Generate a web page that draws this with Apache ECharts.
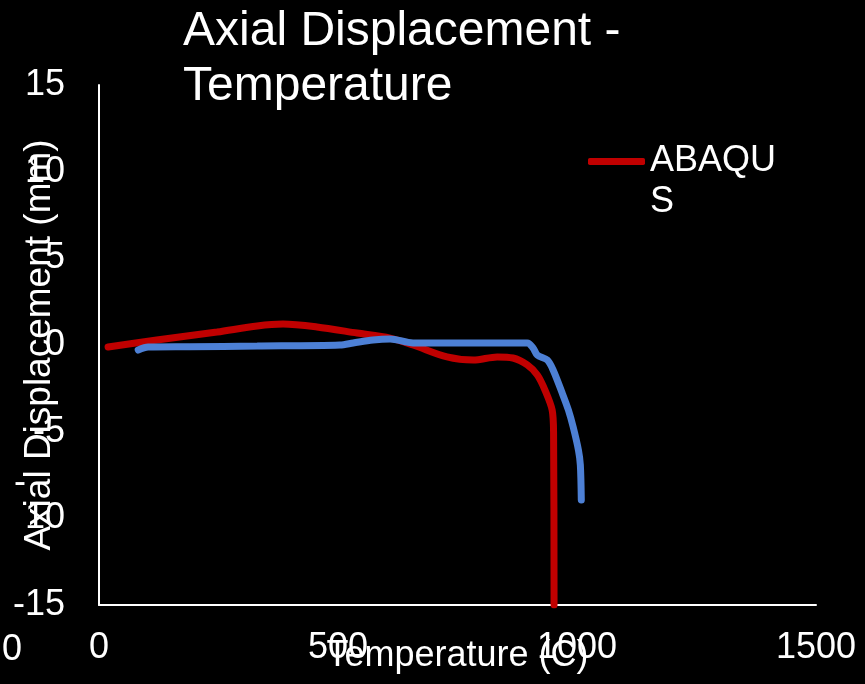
<!DOCTYPE html>
<html>
<head>
<meta charset="utf-8">
<script src="https://cdn.jsdelivr.net/npm/echarts@6/dist/echarts.min.js"></script>
<style>
html,body{margin:0;padding:0;background:#000;}
#chart{width:865px;height:684px;}
</style>
</head>
<body>
<div id="chart"></div>
<script>
var titleText = 'Axial Displacement -\nTemperature';
var xAxisName = 'Temperature (C)';
var yAxisName = 'Axial Displacement (mm)';
var seriesNames = ['ABAQUS', 'Experiment'];

// Temperature (C)
var abaqusT = [19, 121, 247, 331, 385, 456, 540, 609, 657, 728, 783, 833, 866, 896, 917, 933, 948, 951, 952];
// Axial displacement (mm)
var abaqusD = [-0.12, 0.29, 0.75, 1.10, 1.21, 1.04, 0.69, 0.40, 0.0, -0.69, -0.87, -0.69, -0.75, -1.15, -1.73, -2.6, -3.75, -5.1, -15];

var expT = [82, 103, 190, 331, 504, 532, 573, 609, 657, 797, 896, 908, 917, 938, 950, 969, 982, 992, 1003, 1007, 1009];
var expD = [-0.29, -0.12, -0.1, -0.06, 0, 0.12, 0.29, 0.35, 0.12, 0.12, 0.12, -0.17, -0.58, -0.87, -1.44, -2.77, -3.75, -4.73, -6.06, -6.92, -8.94];

var xTicks = [0, 500, 1000, 1500];
var yTicks = [-15, -10, -5, 0, 5, 10, 15];

function pairs(xs, ys) { return xs.map(function (x, i) { return [x, ys[i]]; }); }

var FONT = '"Liberation Sans", Arial, sans-serif';
var chart = echarts.init(document.getElementById('chart'));
chart.setOption({
  backgroundColor: '#000000',
  animation: false,
  title: {
    text: titleText,
    left: 183, top: 4, padding: 0,
    textStyle: { color: '#ffffff', fontSize: 48, fontWeight: 'normal', fontFamily: FONT, lineHeight: 55 }
  },
  legend: {
    data: [seriesNames[0]],
    left: 588, top: 100, padding: 0,
    icon: 'roundRect',
    itemWidth: 57, itemHeight: 7,
    formatter: function (n) { return n === 'ABAQUS' ? ' \nABAQU\nS' : n; },
    textStyle: { color: '#ffffff', fontSize: 36, fontFamily: FONT, lineHeight: 41 }
  },
  grid: { left: 99, right: 49, top: 85, bottom: 79, containLabel: false, outerBoundsMode: 'none' },
  xAxis: {
    type: 'value', min: xTicks[0], max: xTicks[xTicks.length - 1], interval: 500,
    name: xAxisName, nameLocation: 'middle', nameGap: 33, nameMoveOverlap: false,
    nameTextStyle: { color: '#ffffff', fontSize: 36, fontFamily: FONT },
    axisLine: { onZero: false, lineStyle: { color: '#ffffff', width: 2 } },
    axisTick: { show: false },
    splitLine: { show: false },
    axisLabel: { color: '#ffffff', fontSize: 36, fontFamily: FONT, margin: 25, formatter: function (v) { return String(v); } }
  },
  yAxis: {
    type: 'value', min: yTicks[0], max: yTicks[yTicks.length - 1], interval: 5,
    name: yAxisName, nameLocation: 'middle', nameGap: 41, nameRotate: 90, nameMoveOverlap: false,
    nameTextStyle: { color: '#ffffff', fontSize: 37, fontFamily: FONT },
    axisLine: { show: true, lineStyle: { color: '#ffffff', width: 2 } },
    axisTick: { show: false },
    splitLine: { show: false },
    axisLabel: {
      color: '#ffffff', fontSize: 36, fontFamily: FONT, margin: 34,
      formatter: function (v) { return v === -10 ? '10' : String(v); }
    }
  },
  graphic: [
    { type: 'text', left: 2, top: 632, z: 100, style: { text: '0', fill: '#ffffff', font: '36px ' + FONT } },
    { type: 'text', left: 14, top: 465, z: 100, style: { text: '-', fill: '#ffffff', font: '36px ' + FONT } }
  ],
  series: [
    {
      name: seriesNames[0], type: 'line', data: pairs(abaqusT, abaqusD),
      showSymbol: false, symbol: 'none', smooth: 0.3,
      lineStyle: { color: '#C00000', width: 7, cap: 'round' },
      itemStyle: { color: '#C00000' }
    },
    {
      name: seriesNames[1], type: 'line', data: pairs(expT, expD),
      showSymbol: false, symbol: 'none', smooth: 0.3,
      lineStyle: { color: '#4D80D5', width: 7, cap: 'round' },
      itemStyle: { color: '#4D80D5' }
    }
  ]
});
</script>
</body>
</html>
